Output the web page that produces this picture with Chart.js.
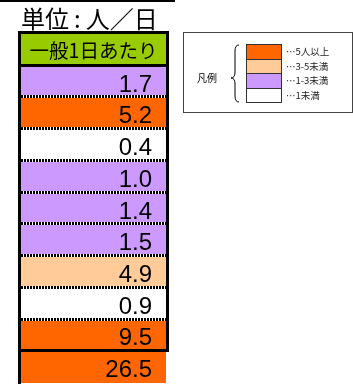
<!DOCTYPE html>
<html>
<head>
<meta charset="utf-8">
<script src="https://cdn.jsdelivr.net/npm/chart.js@4"></script>
<style>
  body { margin: 0; background: #fff; }
  #wrap { position: relative; width: 353px; height: 384px; overflow: hidden; }
  #chart-box { position: absolute; left: 0; top: 0; width: 353px; height: 384px; }
  #topline { position: absolute; left: 0; top: 0; width: 175px; height: 2px; background: #000; }
  #titulo { position: absolute; left: 21px; top: 3px; font: 24px "Noto Sans CJK JP"; line-height: 30px; white-space: nowrap; }
  #titulo span { margin: 0 5px; }
  #leyenda { position: absolute; left: 183px; top: 32px; width: 170px; height: 81px; box-sizing: border-box; border: 1px solid #444; }
  #leyenda .rotulo { position: absolute; left: 13px; top: 38px; font: 10px "Noto Sans CJK JP"; line-height: 14px; }
  #leyenda svg { position: absolute; left: 0; top: 0; }
  .sw { position: absolute; left: 62px; width: 36px; box-sizing: border-box; border: 1px solid #333; }
  .sw-txt { position: absolute; left: 102px; font: 9.5px "Noto Sans CJK JP"; line-height: 14px; color: #222; white-space: nowrap; }
</style>
</head>
<body>
<div id="wrap">
  <div id="chart-box"><canvas id="tabla-chart"></canvas></div>
  <div id="topline"></div>
  <div id="titulo">単位<span>:</span>人／日</div>
  <div id="leyenda">
    <svg width="170" height="81"><path d="M55,12 Q51,12 51,18 L51,39 Q51,45 47,45 Q51,45 51,51 L51,63 Q51,69 55,69" fill="none" stroke="#000" stroke-width="1"/></svg>
    <div class="rotulo">凡例</div>
  </div>
</div>
<script>
// * datos de la tabla
const encabezado = "一般1日あたり"
const valores = [1.7, 5.2, 0.4, 1.0, 1.4, 1.5, 4.9, 0.9, 9.5, 26.5]
const limites = [5, 3, 1, 0]
const coloresClase = ["#FF6600", "#FFCC99", "#CC99FF", "#FFFFFF"]
const etiquetasClase = ["…5人以上", "…3-5未満", "…1-3未満", "…1未満"]
const colorEncabezado = "#99CC00"

function colorDe(v) {
  for (let i = 0; i < limites.length; i++) {
    if (v >= limites[i]) return coloresClase[i]
  }
  return coloresClase[coloresClase.length - 1]
}

//* leyenda
const leyenda = document.querySelector("#leyenda")
coloresClase.forEach((c, i) => {
  const sw = document.createElement("div")
  sw.className = "sw"
  sw.style.top = (11 + i * 14.5) + "px"
  sw.style.height = "15.5px"
  sw.style.background = c
  leyenda.appendChild(sw)
  const t = document.createElement("div")
  t.className = "sw-txt"
  t.style.top = (11 + i * 14.5) + "px"
  t.textContent = etiquetasClase[i]
  leyenda.appendChild(t)
})

const filas = [encabezado, ...valores.map((v, i) => "r" + (i + 1))]

// separadores, bordes y textos de las celdas
const celdasPlugin = {
  id: "celdas",
  afterDatasetsDraw(chart) {
    const ctx = chart.ctx
    const meta = chart.getDatasetMeta(0)
    const area = chart.chartArea
    const L = area.left, R = area.right
    ctx.save()
    // textos
    meta.data.forEach((bar, i) => {
      ctx.fillStyle = "#000"
      if (i === 0) {
        ctx.font = '19.5px "Noto Sans CJK JP"'
        ctx.textAlign = "center"
        ctx.textBaseline = "middle"
        ctx.fillText(encabezado, (L + R) / 2, bar.y + 1)
      } else {
        ctx.font = '24px "Liberation Sans"'
        ctx.textAlign = "right"
        ctx.textBaseline = "alphabetic"
        ctx.fillText(valores[i - 1].toFixed(1), R - 14, bar.y + 10)
      }
    })
    // separadores
    for (let i = 1; i < meta.data.length; i++) {
      const y = Math.round((meta.data[i - 1].y + meta.data[i].y) / 2)
      if (i === 1 || i === meta.data.length - 1) {
        ctx.fillStyle = "#000"
        ctx.fillRect(L - 3, y - 2, R - L + 6, 3)
      } else {
        ctx.fillStyle = "#fff"
        ctx.fillRect(L, y - 2, R - L, 3)
        ctx.fillStyle = "#000"
        for (let x = L; x < R; x += 3) ctx.fillRect(x, y - 2, 2, 3)
      }
    }
    // bordes
    ctx.fillStyle = "#000"
    const top = area.top
    ctx.fillRect(L - 3, top - 3, R - L + 6, 3)
    ctx.fillRect(L - 3, top - 3, 3, area.bottom - top + 4)
    const yUlt = Math.round((meta.data[meta.data.length - 2].y + meta.data[meta.data.length - 1].y) / 2)
    ctx.fillRect(R, top - 3, 3, yUlt - top + 3)
    ctx.restore()
  }
}

const contenedor = document.querySelector("#tabla-chart").getContext("2d")
const tablaChart = new Chart(contenedor, {
  type: "bar",
  data: {
    labels: filas,
    datasets: [
      {
        data: filas.map(() => 1),
        backgroundColor: [colorEncabezado, ...valores.map(colorDe)],
        borderWidth: 0,
        barPercentage: 1,
        categoryPercentage: 1,
      },
    ],
  },
  options: {
    indexAxis: "y",
    responsive: true,
    maintainAspectRatio: false,
    animation: false,
    layout: { padding: { left: 21, right: 187, top: 34, bottom: 1 } },
    scales: {
      x: { display: false, min: 0, max: 1 },
      y: { display: false },
    },
    plugins: {
      legend: { display: false },
      tooltip: { enabled: false },
    },
  },
  plugins: [celdasPlugin],
})
</script>
</body>
</html>
